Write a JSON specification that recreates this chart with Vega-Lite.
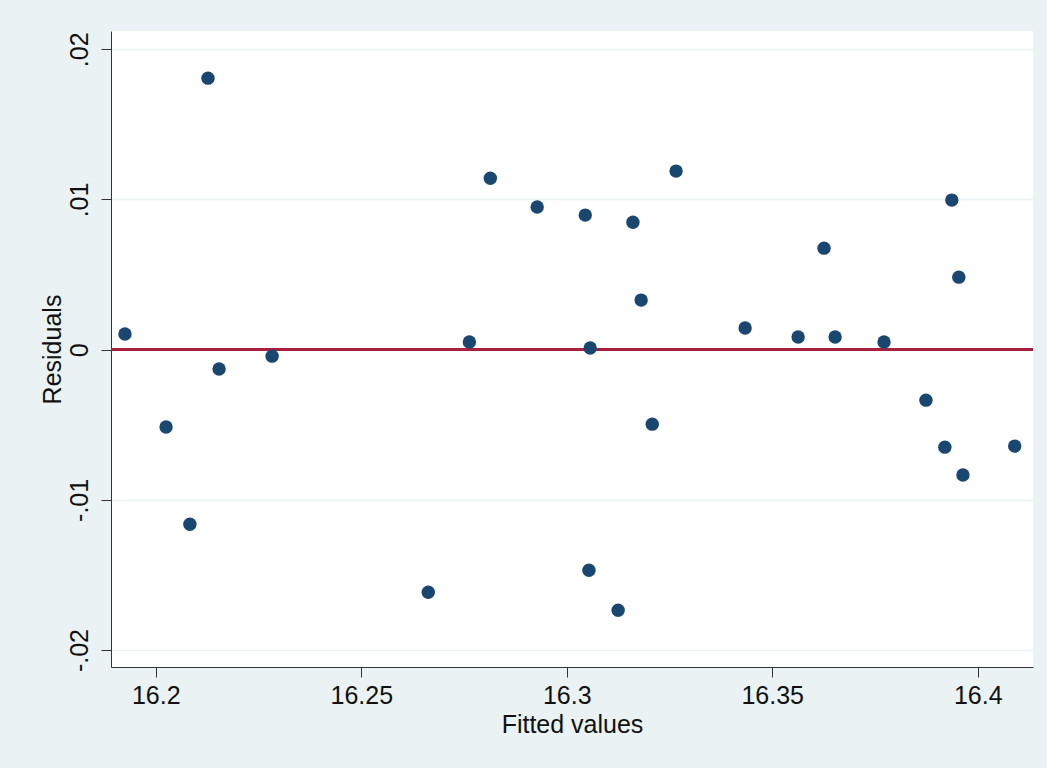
{
  "$schema": "https://vega.github.io/schema/vega-lite/v6.json",
  "width": 922,
  "height": 636,
  "autosize": {"type": "none"},
  "padding": {"left": 111, "top": 31, "right": 14, "bottom": 101},
  "background": "#EAF2F3",
  "config": {
    "view": {"stroke": null, "fill": "white"},
    "font": "Liberation Sans",
    "axis": {
      "domainColor": "#333333",
      "tickColor": "#333333",
      "tickSize": 10,
      "labelFont": "Liberation Sans",
      "titleFont": "Liberation Sans",
      "labelFontSize": 25,
      "titleFontSize": 25,
      "labelColor": "#111111",
      "titleColor": "#111111",
      "titleFontWeight": "normal"
    }
  },
  "data": {
    "values": [
      {"fitted": 16.1925, "resid": 0.00104},
      {"fitted": 16.2025, "resid": -0.00515},
      {"fitted": 16.2083, "resid": -0.01163},
      {"fitted": 16.2127, "resid": 0.01808},
      {"fitted": 16.2154, "resid": -0.00129},
      {"fitted": 16.2283, "resid": -0.00043},
      {"fitted": 16.2663, "resid": -0.01615},
      {"fitted": 16.2763, "resid": 0.00051},
      {"fitted": 16.2814, "resid": 0.01142},
      {"fitted": 16.2928, "resid": 0.0095},
      {"fitted": 16.3045, "resid": 0.00896},
      {"fitted": 16.3057, "resid": 0.00011},
      {"fitted": 16.3054, "resid": -0.01469},
      {"fitted": 16.3125, "resid": -0.01735},
      {"fitted": 16.3161, "resid": 0.00849},
      {"fitted": 16.3181, "resid": 0.0033},
      {"fitted": 16.3208, "resid": -0.00496},
      {"fitted": 16.3266, "resid": 0.01189},
      {"fitted": 16.3434, "resid": 0.00144},
      {"fitted": 16.3563, "resid": 0.00084},
      {"fitted": 16.3626, "resid": 0.00676},
      {"fitted": 16.3653, "resid": 0.00084},
      {"fitted": 16.3772, "resid": 0.00051},
      {"fitted": 16.3874, "resid": -0.00336},
      {"fitted": 16.392, "resid": -0.00649},
      {"fitted": 16.3937, "resid": 0.00996},
      {"fitted": 16.3954, "resid": 0.00483},
      {"fitted": 16.3964, "resid": -0.00835},
      {"fitted": 16.409, "resid": -0.00642}
    ]
  },
  "layer": [
    {
      "mark": {"type": "rule", "color": "#A8203F", "strokeWidth": 2},
      "encoding": {"y": {"datum": 0, "type": "quantitative"}}
    },
    {
      "mark": {"type": "circle", "color": "#1A476F", "opacity": 1, "size": 180},
      "encoding": {
        "x": {
          "field": "fitted",
          "type": "quantitative",
          "title": "Fitted values",
          "scale": {"domain": [16.1891, 16.41345], "nice": false, "zero": false},
          "axis": {
            "values": [16.2, 16.25, 16.3, 16.35, 16.4],
            "grid": false,
            "labelPadding": 6,
            "titlePadding": 4,
            "format": "~g"
          }
        },
        "y": {
          "field": "resid",
          "type": "quantitative",
          "title": "Residuals",
          "scale": {"domain": [-0.02113, 0.02122], "nice": false, "zero": false},
          "axis": {
            "values": [-0.02, -0.01, 0, 0.01, 0.02],
            "grid": true,
            "gridColor": "#EAF2F3",
            "gridWidth": 1.5,
            "labelAngle": -90,
            "labelAlign": "center",
            "labelBaseline": "bottom",
            "labelPadding": 9,
            "titlePadding": 2,
            "labelExpr": "(datum.value < 0 ? '-' : '') + replace(format(abs(datum.value), '.2~f'), '0.', '.')"
          }
        }
      }
    }
  ]
}
